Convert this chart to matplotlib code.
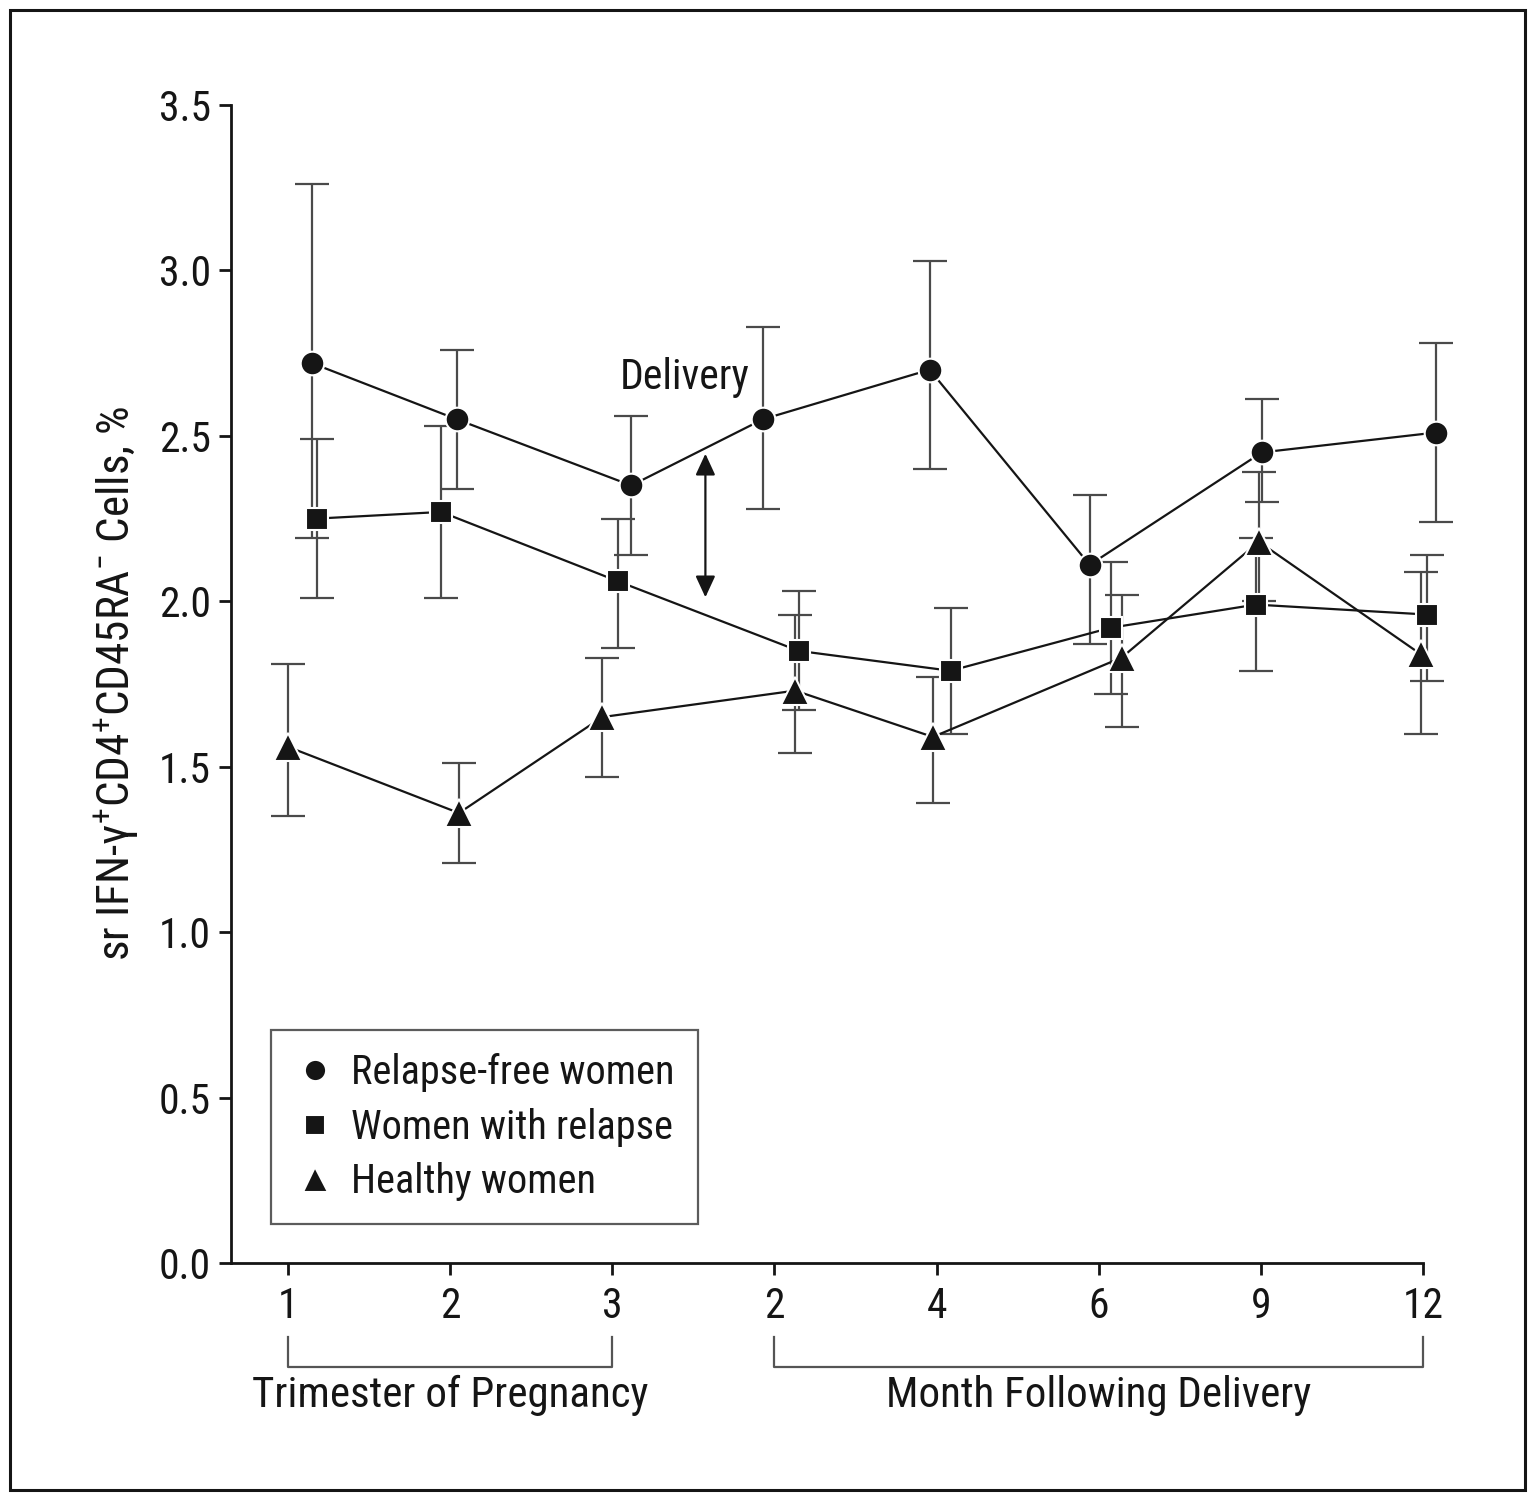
import matplotlib
matplotlib.use("Agg")
import matplotlib.pyplot as plt
from matplotlib import font_manager
from matplotlib.patches import Rectangle
from matplotlib.transforms import blended_transform_factory
import numpy as np

# ---------------- data ----------------
tick_labels = ["1", "2", "3", "2", "4", "6", "9", "12"]
group_names = ["Trimester of Pregnancy", "Month Following Delivery"]
series_names = ["Relapse-free women", "Women with relapse", "Healthy women"]

relapse_free_mean = [2.72, 2.55, 2.35, 2.55, 2.70, 2.11, 2.45, 2.51]
relapse_free_upper = [3.26, 2.76, 2.56, 2.83, 3.03, 2.32, 2.61, 2.78]
relapse_free_lower = [2.19, 2.34, 2.14, 2.28, 2.40, 1.87, 2.30, 2.24]

relapse_mean = [2.25, 2.27, 2.06, 1.85, 1.79, 1.92, 1.99, 1.96]
relapse_upper = [2.49, 2.53, 2.25, 2.03, 1.98, 2.12, 2.19, 2.14]
relapse_lower = [2.01, 2.01, 1.86, 1.67, 1.60, 1.72, 1.79, 1.76]

healthy_mean = [1.56, 1.36, 1.65, 1.73, 1.59, 1.83, 2.18, 1.84]
healthy_upper = [1.81, 1.51, 1.83, 1.96, 1.77, 2.02, 2.39, 2.09]
healthy_lower = [1.35, 1.21, 1.47, 1.54, 1.39, 1.62, 2.00, 1.60]

# horizontal dodge of each point (in category units)
dodge_relapse_free = [0.146, 0.041, 0.117, -0.072, -0.043, -0.056, 0.006, 0.078]
dodge_relapse = [0.179, -0.056, 0.037, 0.150, 0.086, 0.074, -0.031, 0.023]
dodge_healthy = [0.0, 0.054, -0.062, 0.128, -0.023, 0.142, -0.012, -0.014]

# ---------------- font ----------------
def pick(fams):
    for f in fams:
        try:
            font_manager.findfont(font_manager.FontProperties(family=f), fallback_to_default=False)
            return f
        except Exception:
            pass
    return "DejaVu Sans"

FONT = pick(["Liberation Sans Narrow", "Roboto Condensed", "Liberation Sans"])
plt.rcParams["font.family"] = [FONT, "DejaVu Sans"]
plt.rcParams["mathtext.fontset"] = "custom"
plt.rcParams["mathtext.rm"] = FONT
plt.rcParams["mathtext.it"] = FONT
plt.rcParams["mathtext.bf"] = FONT

FS = 30
INK = "#151515"
BAR = "#4a4a4a"

fig = plt.figure(figsize=(15.34, 15.0), dpi=100)
ax = fig.add_axes([231 / 1534, 1 - 1263 / 1500, (1423 - 231) / 1534, (1263 - 105) / 1500])

x = np.arange(len(tick_labels))

series = [
    (relapse_free_mean, relapse_free_lower, relapse_free_upper, dodge_relapse_free, "o", 17),
    (relapse_mean, relapse_lower, relapse_upper, dodge_relapse, "s", 16),
    (healthy_mean, healthy_lower, healthy_upper, dodge_healthy, "^", 20),
]

for mean, lo, hi, dg, mk, ms in series:
    m = np.array(mean)
    xe = x + np.array(dg)
    yerr = np.vstack([m - np.array(lo), np.array(hi) - m])
    cont = ax.errorbar(xe, m, yerr=yerr, fmt="none", ecolor=BAR, elinewidth=1.6,
                       capsize=12.5, capthick=1.6, zorder=2)
    for art in cont.get_children():
        art.set_clip_on(False)

handles = []
for (mean, lo, hi, dg, mk, ms), name in zip(series, series_names):
    xe = x + np.array(dg)
    ax.plot(xe, mean, color=INK, lw=1.6, zorder=3, clip_on=False)
    h, = ax.plot(xe, mean, linestyle="none", marker=mk, ms=ms, mfc=INK,
                 mec="white", mew=1.5, zorder=4, label=name, clip_on=False)
    handles.append(h)

ax.set_xlim(-0.352, 7)
ax.set_ylim(0, 3.5)
ax.set_yticks(np.arange(0, 3.51, 0.5))
ax.set_yticklabels([f"{v:.1f}" for v in np.arange(0, 3.51, 0.5)])
ax.set_xticks(x)
ax.set_xticklabels(tick_labels)

for s in ["top", "right"]:
    ax.spines[s].set_visible(False)
for s in ["left", "bottom"]:
    ax.spines[s].set_linewidth(2.0)
    ax.spines[s].set_color(INK)
ax.tick_params(axis="both", direction="out", length=8.5, width=2.0, color=INK,
               labelsize=FS, labelcolor=INK)
ax.tick_params(axis="y", pad=6)
ax.tick_params(axis="x", pad=8)

ax.set_ylabel(r"sr IFN-γ$^{+}$CD4$^{+}$CD45RA$^{-}$ Cells, %", fontsize=32.5, color=INK)
ax.yaxis.set_label_coords(-(231 - 117) / (1423 - 231), 0.5)
ax.yaxis.label.set_va("center")

# Delivery annotation
ax.annotate("", xy=(2.574, 2.446), xytext=(2.574, 2.012),
            arrowprops=dict(arrowstyle="<|-|>,head_length=0.65,head_width=0.3",
                            color=INK, lw=1.6, shrinkA=0, shrinkB=0, mutation_scale=20))
ax.text(2.444, 2.677, "Delivery", fontsize=FS, ha="center", va="center", color=INK)

# group brackets under the x axis
trans = blended_transform_factory(ax.transData, ax.transAxes)
y_top, y_bot, y_lab = -0.0639, -0.0898, -0.114
for (a, b), name in zip([(0, 2), (3, 7)], group_names):
    ax.plot([a, a, b, b], [y_top, y_bot, y_bot, y_top], color="#555555", lw=1.6,
            transform=trans, clip_on=False)
    ax.text((a + b) / 2, y_lab, name, fontsize=31, ha="center", va="center",
            transform=trans, color=INK)

leg = ax.legend(handles=handles, loc="upper left",
                bbox_to_anchor=((271 - 231) / (1423 - 231), (1263 - 1030) / (1263 - 105)),
                borderaxespad=0, fontsize=29, frameon=True, fancybox=False,
                handlelength=1.0, handletextpad=0.4, borderpad=0.58, labelspacing=0.38,
                markerscale=0.9)
leg.get_frame().set_edgecolor("#333333")
leg.get_frame().set_linewidth(1.6)
for t in leg.get_texts():
    t.set_color(INK)

fig.add_artist(Rectangle((10 / 1534, 10 / 1500), (1525 - 10) / 1534, (1490 - 10) / 1500,
                         transform=fig.transFigure, fill=False, edgecolor=INK, lw=2.2))

fig.savefig("out.png", dpi=100, facecolor="white")
